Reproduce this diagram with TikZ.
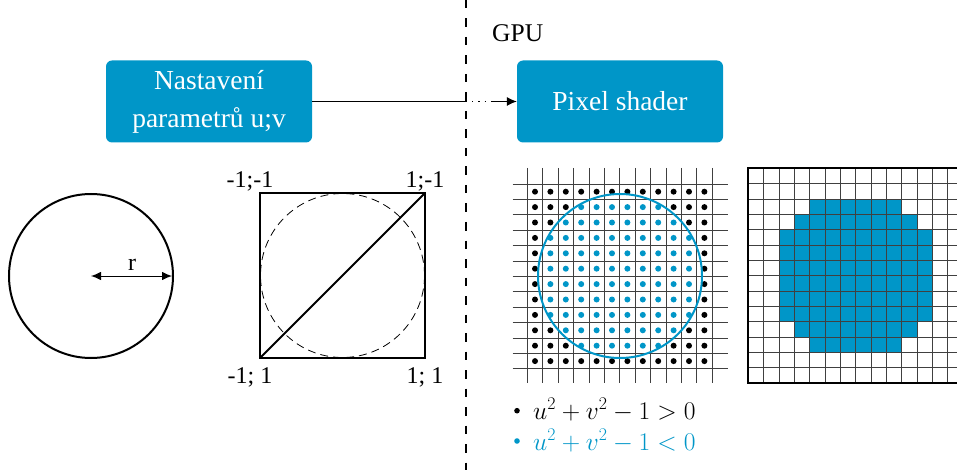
\documentclass[tikz,border=0pt]{standalone}
\usepackage{fix-cm}
\usepackage[no-math]{fontspec}
\setmainfont{Liberation Serif}
\usetikzlibrary{arrows.meta}
\definecolor{gblue}{RGB}{0,150,200}
\begin{document}
\begin{tikzpicture}[x=1pt,y=-1pt,
  box/.style={fill=gblue, rounded corners=6pt, minimum width=206pt, minimum height=82pt,
    text=white, align=center, font=\fontsize{27.5}{38}\selectfont, inner sep=0pt},
  lbl/.style={font=\fontsize{24}{28}\selectfont, anchor=base, inner sep=0pt},
  thickln/.style={line width=2pt},
  gridln/.style={line width=0.8pt, draw=black!75},
  dotnode/.style={circle, inner sep=0pt, minimum size=5.6pt},
  legtext/.style={anchor=base west, font=\fontsize{25.5}{30}\selectfont, inner sep=0pt}
]
\useasboundingbox (0,0) rectangle (957,470);

% separator
\coordinate (septop) at (466,0);
\coordinate (sepbot) at (466,470);
\draw[line width=2pt, dash pattern=on 8.5pt off 10pt] (septop) -- (sepbot);

\node[anchor=base west, font=\fontsize{25.5}{30}\selectfont, inner sep=0pt] (gpu) at (492,42) {GPU};

% boxes
\node[box] (b1) at (209,101.5) {Nastavení\\parametrů u;v};
\node[box] (b2) at (620,101.5) {Pixel shader};
\coordinate (cross) at (466,101.5);
\coordinate (dotend) at (491,101.5);
\draw[line width=1pt] (b1.east) -- (cross);
\draw[line width=1pt, dash pattern=on 1.2pt off 5pt] (cross) -- (dotend);
\draw[line width=1pt, -{Latex[length=10pt,width=9pt]}] (dotend) -- (b2.west);

% left circle
\node[circle, draw, line width=2pt, minimum size=164pt, inner sep=0pt] (c1) at (91,276) {};
\draw[line width=1pt, shorten >=2pt, {Latex[length=10pt,width=8.5pt]}-{Latex[length=10pt,width=8.5pt]}] (c1.center) -- (c1.east);
\node[font=\fontsize{24}{28}\selectfont, anchor=base, inner sep=0pt] (rl) at (132,270.5) {r};

% square
\node[draw, thickln, minimum size=165pt, inner sep=0pt, outer sep=0pt] (sq) at (342.5,275.5) {};
\draw[thickln] (sq.south west) -- (sq.north east);
\node[circle, draw, line width=0.8pt, dash pattern=on 8pt off 5pt, minimum size=164pt, inner sep=0pt] (dc) at (sq.center) {};
\node[lbl] (l1) at (250,188) {-1;-1};
\node[lbl] (l2) at (425,188) {1;-1};
\node[lbl] (l3) at (250,383) {-1; 1};
\node[lbl] (l4) at (425,383) {1; 1};

% dot grid
\foreach \k in {0,...,12} {
  \draw[gridln] (527.3+15.4*\k,168) -- (527.3+15.4*\k,383);
  \draw[gridln] (512.7,184+15.4*\k) -- (727.7,184+15.4*\k);
}
\foreach \i in {0,...,11} {
  \foreach \j in {0,...,11} {
    \pgfmathsetmacro{\dd}{(\i-5.5)^2+(\j-5.5)^2}
    \ifdim \dd pt < 28.3pt \def\dcol{gblue}\else\def\dcol{black}\fi
    \fill[\dcol] (535+15.4*\i,191.7+15.4*\j) circle (3pt);
  }
}
\node[circle, draw=gblue, line width=2pt, minimum size=164pt, inner sep=0pt] (bc) at (620,276) {};

% pixel grid
\begin{scope}
\clip (740,160) rectangle (957,395);
\foreach \c in {0,...,13} {
  \foreach \r in {0,...,13} {
    \pgfmathsetmacro{\dd}{(\c-6.5)^2+(\r-6.5)^2}
    \ifdim \dd pt < 28.3pt
      \fill[gblue] (748.3+15.35*\c,168.3+15.35*\r) rectangle ++(15.35,15.35);
    \fi
  }
}
\foreach \k in {1,...,13} {
  \draw[gridln] (748.3+15.35*\k,168.3) -- (748.3+15.35*\k,383.2);
  \draw[gridln] (748.3,168.3+15.35*\k) -- (957,168.3+15.35*\k);
}
\draw[thickln] (960,168.3) -- (748.3,168.3) -- (748.3,383.2) -- (960,383.2);
\end{scope}

% legend
\node[dotnode, fill=black] (bl1) at (517,410.7) {};
\node[legtext] (lg1) at (533,419) {$u^2+v^2-1>0$};
\node[dotnode, fill=gblue] (bl2) at (517,441) {};
\node[legtext, text=gblue] (lg2) at (533,450) {$u^2+v^2-1<0$};
\end{tikzpicture}
\end{document}
